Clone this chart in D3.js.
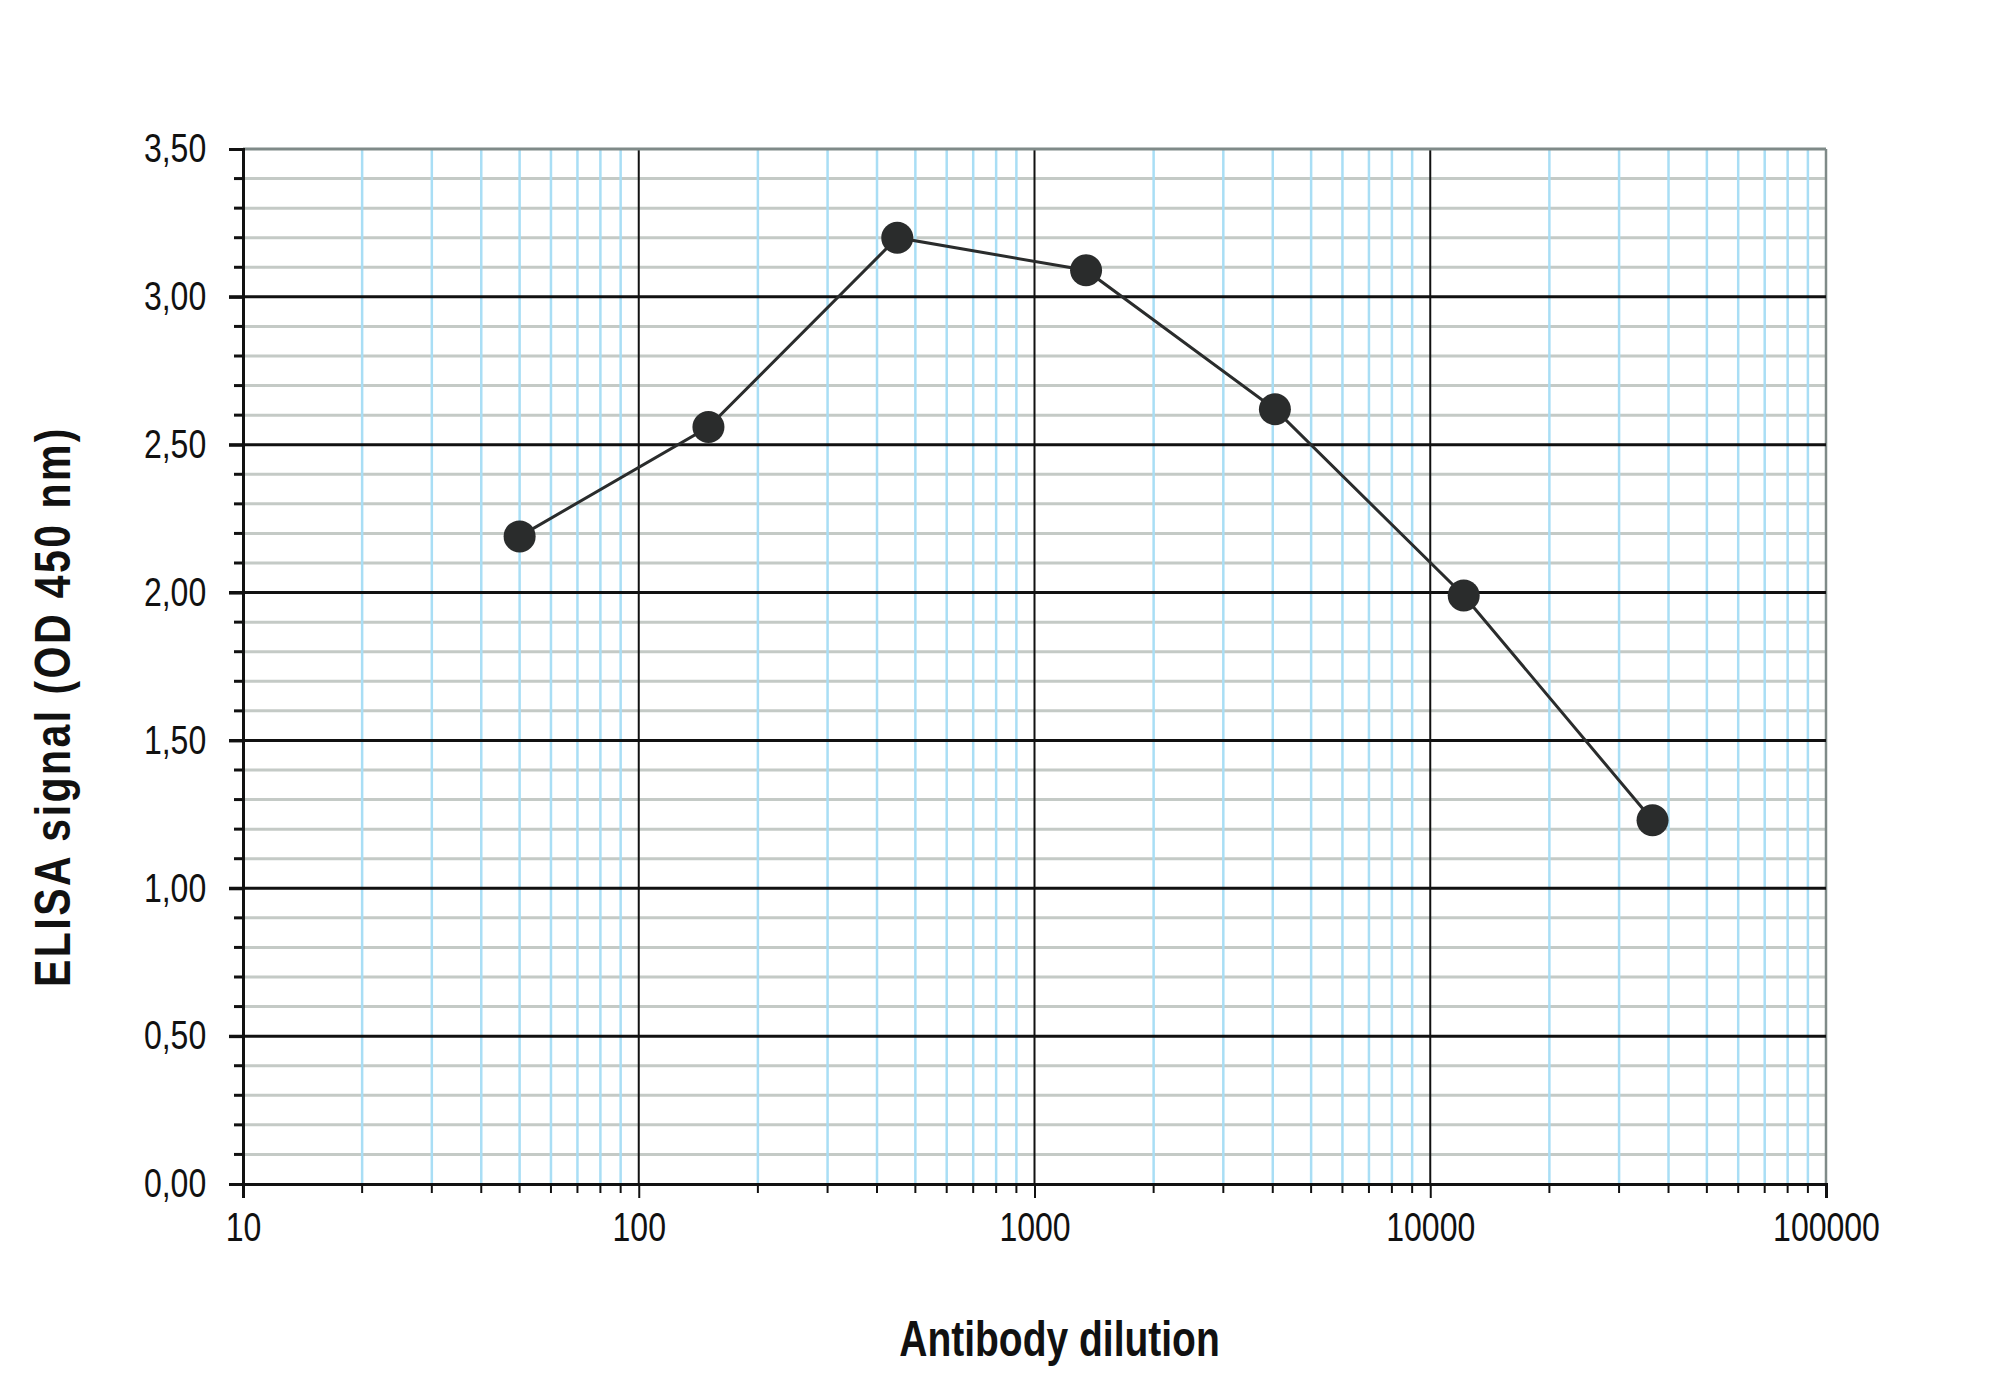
<!DOCTYPE html>
<html><head><meta charset="utf-8">
<script src="https://cdn.jsdelivr.net/npm/d3@7"></script>
<style>body{margin:0;background:#fff}</style>
</head><body>
<script>
var dilutions = [50, 150, 450, 1350, 4050, 12150, 36450];
var signals = [2.19, 2.56, 3.20, 3.09, 2.62, 1.99, 1.23];
var xTickValues = [10, 100, 1000, 10000, 100000];
var yTickValues = [0, 0.5, 1, 1.5, 2, 2.5, 3, 3.5];

var W = 2015, H = 1385,
    m = {l: 243, r: 2015 - 1826, t: 149, b: 1385 - 1184};
var svg = d3.select("body").append("svg").attr("width", W).attr("height", H);
var g = svg.append("g");
var x = d3.scaleLog().domain([10, 100000]).range([m.l, W - m.r]);
var y = d3.scaleLinear().domain([0, 3.5]).range([H - m.b, m.t]);
var font = "'Liberation Sans Narrow','Arial Narrow','Liberation Sans',sans-serif";

// minor horizontal grid every 0.1
var yMinor = d3.range(0, 36).map(function(i){ return i / 10; });
g.selectAll(".hm").data(yMinor.filter(function(v){ return Math.round(v * 10) % 5 !== 0; }))
  .enter().append("line")
  .attr("x1", m.l).attr("x2", W - m.r).attr("y1", y).attr("y2", y)
  .attr("stroke", "#c4cac6").attr("stroke-width", 3);

// minor vertical grid (light blue)
var xMinor = [];
[10, 100, 1000, 10000].forEach(function(d){ for (var k = 2; k <= 9; k++) xMinor.push(d * k); });
g.selectAll(".vm").data(xMinor).enter().append("line")
  .attr("x1", x).attr("x2", x).attr("y1", m.t).attr("y2", H - m.b)
  .attr("stroke", "#a9def5").attr("stroke-width", 2.5);

// major vertical
g.selectAll(".vM").data([100, 1000, 10000]).enter().append("line")
  .attr("x1", x).attr("x2", x).attr("y1", m.t).attr("y2", H - m.b)
  .attr("stroke", "#111").attr("stroke-width", 2);
// right / top border
g.append("line").attr("x1", W - m.r).attr("x2", W - m.r).attr("y1", m.t).attr("y2", H - m.b)
  .attr("stroke", "#7f8a88").attr("stroke-width", 2.5);
g.append("line").attr("x1", m.l).attr("x2", W - m.r).attr("y1", m.t).attr("y2", m.t)
  .attr("stroke", "#7f8a88").attr("stroke-width", 3);
// major horizontal
g.selectAll(".hM").data(yTickValues.slice(1, 7)).enter().append("line")
  .attr("x1", m.l - 14).attr("x2", W - m.r).attr("y1", y).attr("y2", y)
  .attr("stroke", "#111").attr("stroke-width", 3);

// y axis
var yAxis = d3.axisLeft(y).tickValues(yTickValues).tickSize(14)
  .tickFormat(function(d){ return d.toFixed(2).replace(".", ","); });
var ya = g.append("g").attr("transform", "translate(" + m.l + ",0)").call(yAxis);
ya.selectAll(".tick line").attr("stroke", "#111").attr("stroke-width", 3);
ya.select(".domain").attr("stroke", "#111").attr("stroke-width", 3);
ya.selectAll("text").attr("font-family", font).attr("font-size", 40).attr("fill", "#111")
  .attr("x", -46).attr("transform", "scale(0.8,1)");
g.selectAll(".ym").data(yMinor.filter(function(v){ return Math.round(v * 10) % 5 !== 0; }))
  .enter().append("line").attr("x1", m.l - 9).attr("x2", m.l).attr("y1", y).attr("y2", y)
  .attr("stroke", "#111").attr("stroke-width", 3);

// x axis
var xAxis = d3.axisBottom(x).tickValues(xTickValues).tickSize(14).tickFormat(d3.format("d"));
var xa = g.append("g").attr("transform", "translate(0," + (H - m.b) + ")").call(xAxis);
xa.selectAll(".tick line").attr("stroke", "#111").attr("stroke-width", 2);
xa.select(".domain").attr("stroke", "#111").attr("stroke-width", 3);
xa.selectAll("text").attr("font-family", font).attr("font-size", 40).attr("fill", "#111")
  .attr("dy", 40).attr("transform", "scale(0.8,1)");
g.selectAll(".xm").data(xMinor).enter().append("line")
  .attr("x1", x).attr("x2", x).attr("y1", H - m.b).attr("y2", H - m.b + 9)
  .attr("stroke", "#111").attr("stroke-width", 2);

// titles
svg.append("text").attr("transform", "translate(" + ((m.l + W - m.r) / 2 + 25) + ",1356) scale(0.78,1)")
  .attr("text-anchor", "middle").attr("font-family", font).attr("font-weight", "bold")
  .attr("font-size", 50).attr("fill", "#111").text("Antibody dilution");
svg.append("text").attr("transform", "translate(70," + ((m.t + H - m.b) / 2 + 40) + ") rotate(-90) scale(0.82,1)")
  .attr("text-anchor", "middle").attr("font-family", font).attr("font-weight", "bold")
  .attr("font-size", 50).attr("letter-spacing", 3).attr("fill", "#111").text("ELISA signal (OD 450 nm)");

// data
var pts = dilutions.map(function(d, i){ return [d, signals[i]]; });
g.append("path").datum(pts)
  .attr("d", d3.line().x(function(d){ return x(d[0]); }).y(function(d){ return y(d[1]); }))
  .attr("fill", "none").attr("stroke", "#2a2c2c").attr("stroke-width", 3);
g.selectAll(".pt").data(pts).enter().append("circle")
  .attr("cx", function(d){ return x(d[0]); }).attr("cy", function(d){ return y(d[1]); })
  .attr("r", 16).attr("fill", "#2a2c2c");
</script>
</body></html>
